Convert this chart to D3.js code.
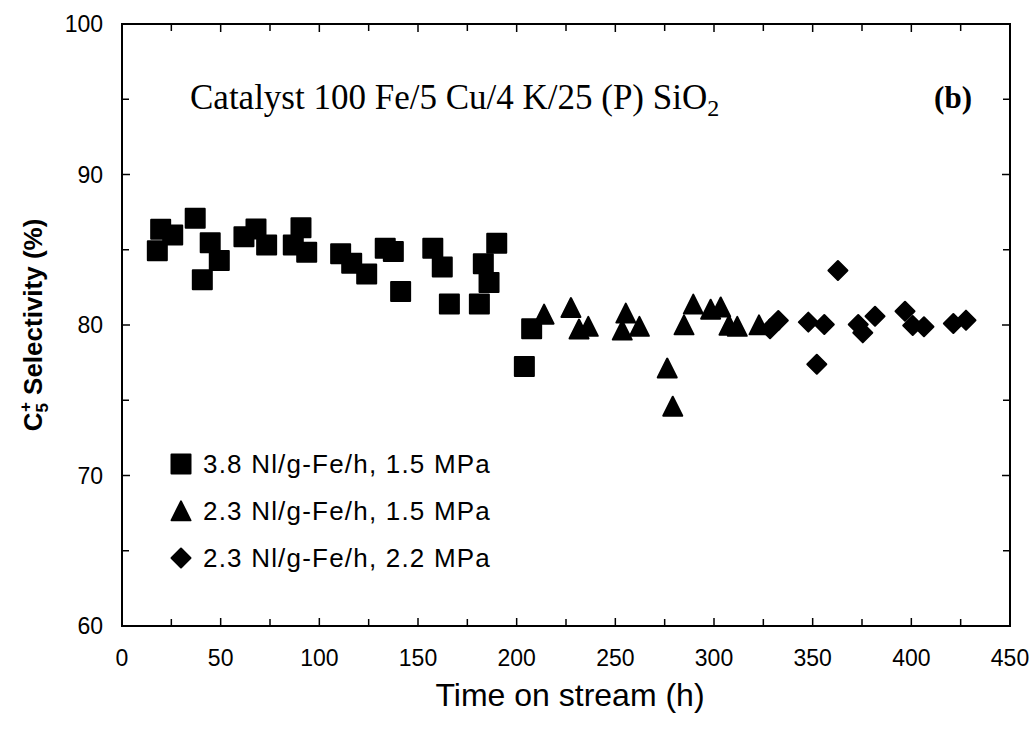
<!DOCTYPE html>
<html>
<head>
<meta charset="utf-8">
<script src="https://cdn.jsdelivr.net/npm/d3@7/dist/d3.min.js"></script>
<style>
  html, body { margin: 0; padding: 0; background: #fff; }
  svg { display: block; }
</style>
</head>
<body>
<svg id="chart" width="1034" height="730"></svg>
<script>
// C5+ selectivity vs. time on stream, three operating conditions
const seriesNames = ["3.8 Nl/g-Fe/h, 1.5 MPa", "2.3 Nl/g-Fe/h, 1.5 MPa", "2.3 Nl/g-Fe/h, 2.2 MPa"];

const sqTime = [17.9, 19.6, 25.7, 37.1, 40.7, 44.7, 49.3, 61.8, 67.9, 73.3, 86.8, 90.7, 93.6,
  110.8, 116.4, 124.0, 133.4, 137.5, 141.2, 157.5, 162.3, 165.9, 181.1, 183.1, 186.0, 189.9,
  203.9, 207.6];
const sqSel = [84.93, 86.36, 85.98, 87.09, 83.01, 85.47, 84.28, 85.87, 86.38, 85.32, 85.32, 86.47, 84.84,
  84.73, 84.11, 83.39, 85.10, 84.88, 82.23, 85.10, 83.85, 81.40, 81.40, 84.07, 82.83, 85.43,
  77.24, 79.75];

const triTime = [213.9, 227.5, 231.6, 236.3, 255.3, 253.5, 262.2, 276.3, 279.1, 284.8, 289.5,
  298.3, 303.4, 307.6, 311.8, 322.8];
const triSel = [80.51, 80.95, 79.52, 79.70, 80.58, 79.45, 79.70, 76.93, 74.39, 79.80, 81.18,
  80.84, 80.99, 79.78, 79.70, 79.80];

const diaTime = [328.4, 332.6, 347.8, 352.1, 355.9, 362.8, 373.1, 375.4, 381.6, 396.8, 400.7,
  406.4, 421.3, 427.7];
const diaSel = [79.75, 80.30, 80.19, 77.39, 80.03, 83.62, 80.03, 79.48, 80.58, 80.91, 79.97,
  79.88, 80.10, 80.32];

const xTicks = [0, 50, 100, 150, 200, 250, 300, 350, 400, 450];
const yTicks = [60, 70, 80, 90, 100];

const svg = d3.select("#chart");
const plotLeft = 122, plotRight = 1010, plotTop = 24, plotBottom = 626;

const x = d3.scaleLinear().domain([0, 450]).range([plotLeft, plotRight]);
const y = d3.scaleLinear().domain([60, 100]).range([plotBottom, plotTop]);

// marker shapes: square, upright triangle, rotated square
const squareType = { draw(ctx, size) { const h = Math.sqrt(size) / 2; ctx.rect(-h, -h, 2 * h, 2 * h); } };
const triangleType = { draw(ctx, size) {
  const w = Math.sqrt(size); const hgt = w;
  ctx.moveTo(0, -hgt * 2 / 3); ctx.lineTo(w / 2, hgt / 3); ctx.lineTo(-w / 2, hgt / 3); ctx.closePath(); } };
const diamondType = { draw(ctx, size) { const r = Math.sqrt(size) / 2;
  ctx.moveTo(0, -r); ctx.lineTo(r, 0); ctx.lineTo(0, r); ctx.lineTo(-r, 0); ctx.closePath(); } };

const series = [
  { t: sqTime, v: sqSel, type: squareType, size: 19 * 19 },
  { t: triTime, v: triSel, type: triangleType, size: 19 * 19 },
  { t: diaTime, v: diaSel, type: diamondType, size: 19 * 19 }
];

// frame
svg.append("rect")
  .attr("x", plotLeft).attr("y", plotTop)
  .attr("width", plotRight - plotLeft).attr("height", plotBottom - plotTop)
  .attr("fill", "none").attr("stroke", "#000").attr("stroke-width", 2);

// inward ticks on all four sides
const xMinor = d3.range(25, 450, 50);
const yMinor = d3.range(65, 100, 10);
const tickG = svg.append("g").attr("stroke", "#000").attr("stroke-width", 1.5);
function xTickMarks(vals, len) {
  vals.forEach(v => {
    tickG.append("line").attr("x1", x(v)).attr("x2", x(v)).attr("y1", plotBottom).attr("y2", plotBottom - len);
    tickG.append("line").attr("x1", x(v)).attr("x2", x(v)).attr("y1", plotTop).attr("y2", plotTop + len);
  });
}
function yTickMarks(vals, len) {
  vals.forEach(v => {
    tickG.append("line").attr("y1", y(v)).attr("y2", y(v)).attr("x1", plotLeft).attr("x2", plotLeft + len);
    tickG.append("line").attr("y1", y(v)).attr("y2", y(v)).attr("x1", plotRight).attr("x2", plotRight - len);
  });
}
xTickMarks(xTicks.slice(1, -1), 8);
xTickMarks(xMinor, 7);
yTickMarks(yTicks.slice(1, -1), 8);
yTickMarks(yMinor, 7);

// tick labels
const labelFont = "'Liberation Sans', Arial, sans-serif";
svg.append("g").selectAll("text").data(xTicks).join("text")
  .attr("x", d => x(d)).attr("y", 666)
  .attr("text-anchor", "middle")
  .attr("font-family", labelFont).attr("font-size", 23)
  .text(d => d);
svg.append("g").selectAll("text").data(yTicks).join("text")
  .attr("x", 103).attr("y", d => y(d) + 8)
  .attr("text-anchor", "end")
  .attr("font-family", labelFont).attr("font-size", 23)
  .text(d => d);

// axis titles
svg.append("text")
  .attr("x", 570).attr("y", 706)
  .attr("text-anchor", "middle")
  .attr("font-family", labelFont).attr("font-size", 32)
  .text("Time on stream (h)");

const yTitle = svg.append("text")
  .attr("transform", `translate(42, ${(plotTop + plotBottom) / 2}) rotate(-90)`)
  .attr("text-anchor", "middle")
  .attr("font-family", labelFont).attr("font-size", 26).attr("font-weight", "bold");
yTitle.append("tspan").text("C");
yTitle.append("tspan").attr("font-size", 17).attr("dy", 6).text("5");
yTitle.append("tspan").attr("font-size", 17).attr("dy", -17).attr("dx", -9).text("+");
yTitle.append("tspan").attr("dy", 11).text(" Selectivity (%)");

// annotation inside the plot
const serif = "'Liberation Serif', 'Times New Roman', serif";
const cat = svg.append("text")
  .attr("x", 190).attr("y", 109)
  .attr("font-family", serif).attr("font-size", 35);
cat.append("tspan").text("Catalyst 100 Fe/5 Cu/4 K/25 (P) SiO");
cat.append("tspan").attr("font-size", 24).attr("dy", 7).text("2");

svg.append("text")
  .attr("x", 972).attr("y", 108)
  .attr("text-anchor", "end")
  .attr("font-family", serif).attr("font-size", 31).attr("font-weight", "bold")
  .text("(b)");

// data markers
series.forEach(s => {
  svg.append("g").selectAll("path").data(s.t.map((t, i) => [t, s.v[i]])).join("path")
    .attr("transform", d => `translate(${x(d[0])},${y(d[1])})`)
    .attr("d", d3.symbol().type(s.type).size(s.size))
    .attr("fill", "#000")
    .attr("stroke", "#000").attr("stroke-width", 2).attr("stroke-linejoin", "round");
});

// legend
const legendY = [464, 511, 558];
const lg = svg.append("g");
series.forEach((s, i) => {
  lg.append("path")
    .attr("transform", `translate(181,${legendY[i] + (i === 1 ? 3 : 0)})`)
    .attr("d", d3.symbol().type(s.type).size(s.size))
    .attr("fill", "#000").attr("stroke", "#000").attr("stroke-width", 2).attr("stroke-linejoin", "round");
  lg.append("text")
    .attr("x", 203).attr("y", legendY[i] + 9)
    .attr("font-family", labelFont).attr("font-size", 26).attr("letter-spacing", 1.2)
    .text(seriesNames[i]);
});
</script>
</body>
</html>
